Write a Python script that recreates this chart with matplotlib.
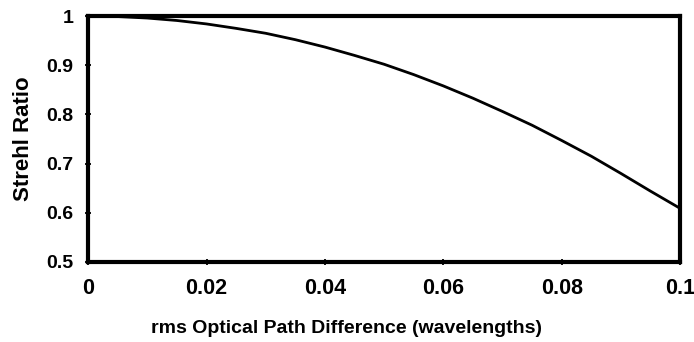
import matplotlib
matplotlib.use("Agg")
import matplotlib.pyplot as plt

opd = [0.000, 0.005, 0.010, 0.015, 0.020, 0.025, 0.030, 0.035, 0.040, 0.045,
       0.050, 0.055, 0.060, 0.065, 0.070, 0.075, 0.080, 0.085, 0.090, 0.095, 0.100]
strehl = [1.000, 0.999, 0.996, 0.991, 0.984, 0.975, 0.965, 0.952, 0.937, 0.920,
          0.902, 0.881, 0.858, 0.833, 0.806, 0.778, 0.747, 0.715, 0.680, 0.644, 0.609]
xticks = [0, 0.02, 0.04, 0.06, 0.08, 0.1]
xticklabels = ["0", "0.02", "0.04", "0.06", "0.08", "0.1"]
yticks = [0.5, 0.6, 0.7, 0.8, 0.9, 1.0]
yticklabels = ["0.5", "0.6", "0.7", "0.8", "0.9", "1"]

plt.rcParams['font.family'] = ['Liberation Sans', 'DejaVu Sans']

fig = plt.figure(figsize=(6.94, 3.42), dpi=100)
ax = fig.add_axes([0.127, 0.234, 0.853, 0.719])
ax.plot(opd, strehl, color='black', lw=2.0)
ax.set_xlim(0, 0.1)
ax.set_ylim(0.5, 1.0)
ax.set_xticks(xticks)
ax.set_xticklabels(xticklabels, fontsize=15.5, fontweight='bold')
ax.set_yticks(yticks)
ax.set_yticklabels(yticklabels, fontsize=14, fontweight='bold')
ax.tick_params(direction='inout', length=5, width=1.3)
ax.tick_params(axis='x', pad=9)
ax.tick_params(axis='y', pad=8)
for s in ax.spines.values():
    s.set_linewidth(3.0)
ax.set_xlabel("rms Optical Path Difference (wavelengths)", fontsize=14, fontweight='bold')
ax.xaxis.set_label_coords(0.436, -0.235)
ax.set_ylabel("Strehl Ratio", fontsize=16, fontweight='bold', labelpad=9)
fig.savefig("out.png", dpi=100)
